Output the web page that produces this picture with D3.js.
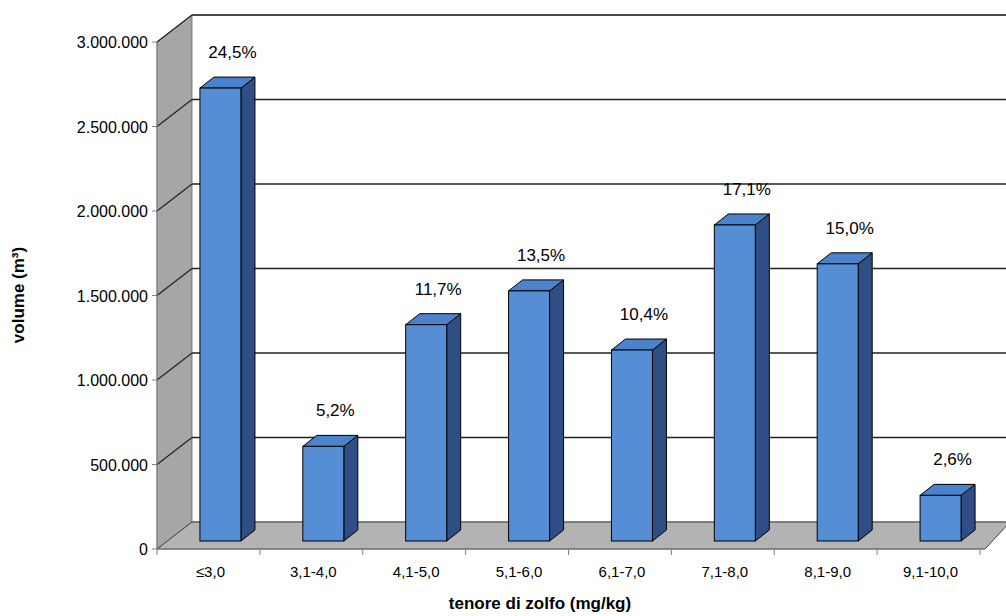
<!DOCTYPE html><html><head><meta charset="utf-8">
<script src="https://cdn.jsdelivr.net/npm/d3@7"></script>
<style>body{margin:0;background:#fff}text{font-family:Arial,"Liberation Sans",sans-serif}</style></head><body>
<svg id="c" width="1006" height="616"></svg>
<script>
var categories = ["≤3,0","3,1-4,0","4,1-5,0","5,1-6,0","6,1-7,0","7,1-8,0","8,1-9,0","9,1-10,0"];
var volumes = [2680000, 560000, 1280000, 1480000, 1130000, 1870000, 1640000, 270000];
var shares = ["24,5%","5,2%","11,7%","13,5%","10,4%","17,1%","15,0%","2,6%"];
var yTicks = [0,500000,1000000,1500000,2000000,2500000,3000000];

var svg = d3.select("#c");
var x0 = 157, x1 = 980, yBase = 549, yTop = 42;
var dx = 35, dy = -27;           // depth of the box
var y = d3.scaleLinear().domain([0, 3000000]).range([yBase, yTop]);
var x = d3.scaleBand().domain(categories).range([x0, x1]);
var fmt = function(v){ return d3.format(",")(v).replace(/,/g, "."); };

// side wall
svg.append("polygon").attr("points",[[x0,yBase],[x0+dx,yBase+dy],[x0+dx,y(3000000)+dy],[x0,y(3000000)]].join(" "))
  .attr("fill","#a6a6a6").attr("stroke","#808080");
// back wall
svg.append("rect").attr("x",x0+dx).attr("y",y(3000000)+dy).attr("width",1006-x0-dx+5).attr("height",yBase-y(3000000))
  .attr("fill","#fff").attr("stroke","#808080");
// floor
svg.append("polygon").attr("points",[[x0,yBase],[x0+dx,yBase+dy],[1010,yBase+dy],[x1+5,yBase]].join(" "))
  .attr("fill","#b3b3b3").attr("stroke","#404040");

// grid
yTicks.slice(1).forEach(function(t){
  svg.append("line").attr("x1",x0).attr("y1",y(t)).attr("x2",x0+dx).attr("y2",y(t)+dy).attr("stroke","#222").attr("stroke-width",1.2);
  svg.append("line").attr("x1",x0+dx).attr("y1",y(t)+dy).attr("x2",1006).attr("y2",y(t)+dy).attr("stroke","#222").attr("stroke-width",1.5);
});

// y axis
svg.append("line").attr("x1",x0).attr("x2",x0).attr("y1",yBase).attr("y2",yTop).attr("stroke","#808080");
yTicks.forEach(function(t){
  svg.append("line").attr("x1",x0-5).attr("x2",x0).attr("y1",y(t)).attr("y2",y(t)).attr("stroke","#808080");
  svg.append("text").attr("x",x0-9).attr("y",y(t)+6).attr("text-anchor","end").attr("font-size",16).text(fmt(t));
});
// x axis ticks
svg.append("line").attr("x1",x0).attr("x2",x1).attr("y1",yBase).attr("y2",yBase).attr("stroke","#808080");
categories.forEach(function(c,i){
  svg.append("line").attr("x1",x(c)).attr("x2",x(c)).attr("y1",yBase).attr("y2",yBase+6).attr("stroke","#808080");
  svg.append("text").attr("x",x(c)+x.bandwidth()/2+2).attr("y",yBase+28).attr("text-anchor","middle").attr("font-size",15).text(c);
});
svg.append("line").attr("x1",x1).attr("x2",x1).attr("y1",yBase).attr("y2",yBase+6).attr("stroke","#808080");

// bars
var bw = 41, bdx = 14, bdy = -11, off = 8;
var g = svg.selectAll("g.bar").data(volumes).enter().append("g").attr("class","bar");
g.each(function(v,i){
  var gg = d3.select(this);
  var cx = x(categories[i]) + x.bandwidth()/2 + 12;
  var l = cx - bw/2, r = cx + bw/2, b = yBase - off, t = b - (yBase - y(v));
  gg.append("polygon").attr("points",[[r,b],[r+bdx,b+bdy],[r+bdx,t+bdy],[r,t]].join(" ")).attr("fill","#2f4f84").attr("stroke","#000");
  gg.append("polygon").attr("points",[[l,t],[l+bdx,t+bdy],[r+bdx,t+bdy],[r,t]].join(" ")).attr("fill","#4a82cc").attr("stroke","#000");
  gg.append("rect").attr("x",l).attr("y",t).attr("width",bw).attr("height",b-t).attr("fill","#558ed5").attr("stroke","#000");
  gg.append("text").attr("x",cx+12).attr("y",t-30).attr("text-anchor","middle").attr("font-size",17).text(shares[i]);
});

// titles
svg.append("text").attr("transform","translate(24,295) rotate(-90)").attr("text-anchor","middle")
  .attr("font-size",17).attr("font-weight","bold").text("volume (m³)");
svg.append("text").attr("x",540).attr("y",609).attr("text-anchor","middle")
  .attr("font-size",17).attr("font-weight","bold").text("tenore di zolfo (mg/kg)");
</script></body></html>
